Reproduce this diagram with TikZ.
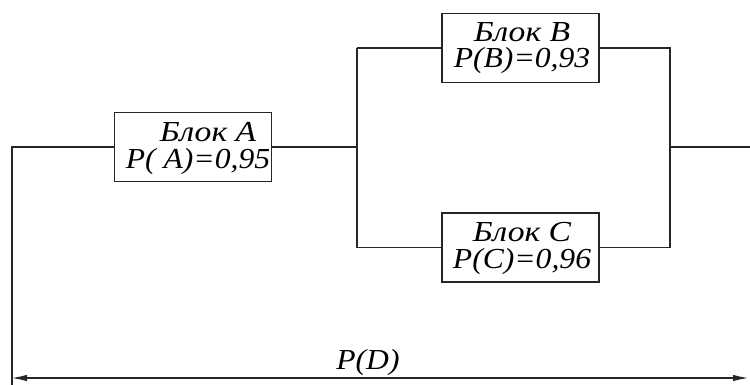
\documentclass[tikz,border=0pt]{standalone}
\usepackage{fontspec}
\setmainfont{Liberation Serif}[ItalicFont={Liberation Serif Italic}]
\usetikzlibrary{arrows.meta}
\begin{document}
\begin{tikzpicture}[x=1pt,y=-1pt,
  wire/.style={line width=1.1pt,draw=black!85},
  blockbox/.style={draw=black!85,line width=1.1pt,minimum width=157pt,minimum height=69pt,inner sep=0pt},
  blocktext/.style={inner sep=0pt,align=center,font=\fontsize{29}{26.5}\selectfont\itshape}]
\useasboundingbox (0,0) rectangle (750,385);
\node[blockbox] (A) at (193,147) {};
\node[blockbox] (B) at (520.5,48) {};
\node[blockbox] (C) at (520.5,247.5) {};
\node[blocktext,anchor=base] (tA) at (198,168) {\hspace*{20pt}\scalebox{1.16}[1]{Блок A}\\\scalebox{1.09}[1]{P( A)=0,95}};
\node[blocktext,anchor=base] (tB) at (522,68) {\scalebox{1.16}[1]{Блок B}\\\scalebox{1.09}[1]{P(B)=0,93}};
\node[blocktext,anchor=base] (tC) at (522,268) {\scalebox{1.16}[1]{Блок C}\\\scalebox{1.09}[1]{P(C)=0,96}};
\node[blocktext,anchor=base] (tD) at (368,369) {\scalebox{1.09}[1]{P(D)}};
\coordinate (Lb) at (12,385);
\coordinate (J1t) at (357,48);
\coordinate (J1b) at (357,247.5);
\coordinate (J2t) at (670,48);
\coordinate (J2b) at (670,247.5);
\coordinate (R0) at (750,147);
\coordinate (D1) at (12,378);
\coordinate (D2) at (748,378);
\draw[wire] (Lb) |- (A.west);
\draw[wire] (A.east) -- (A.east -| J1t);
\draw[wire] (J1t) -- (J1b);
\draw[wire] (J1t) -- (B.west);
\draw[wire] (J1b) -- (C.west);
\draw[wire] (B.east) -- (J2t) -- (J2b) -- (C.east);
\draw[wire] (R0 -| J2t) -- (R0);
\draw[wire,{Latex[length=15pt,width=6.5pt]}-{Latex[length=15pt,width=6.5pt]}] (D1) -- (D2);
\end{tikzpicture}
\end{document}
